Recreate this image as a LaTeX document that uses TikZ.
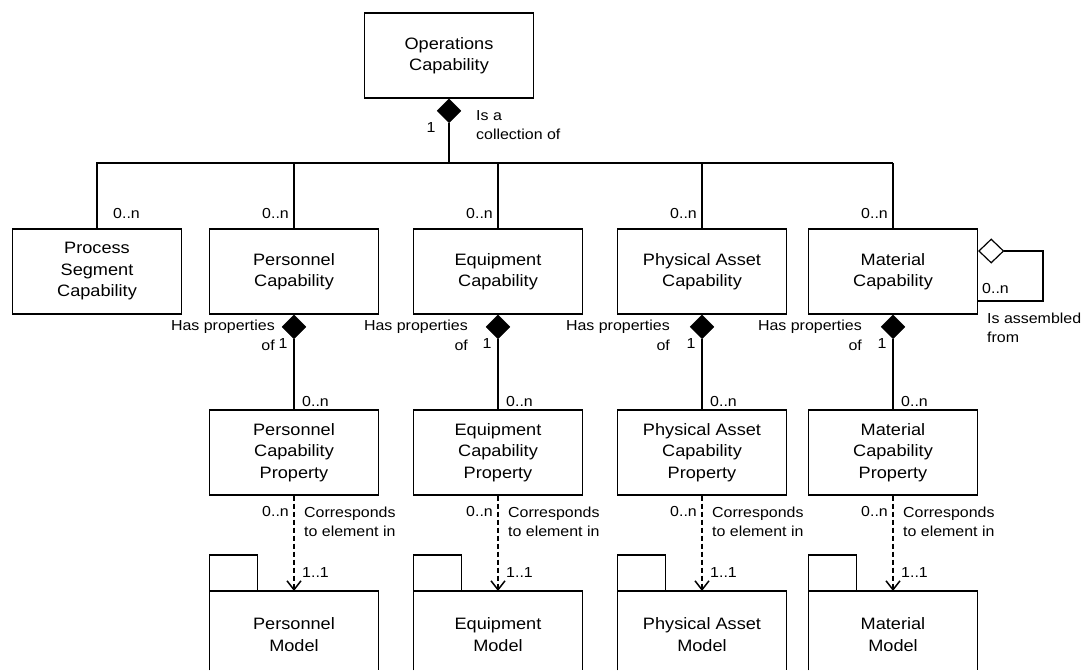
\documentclass[tikz,border=0pt]{standalone}
\usepackage{fontspec}
\setmainfont{Liberation Sans}[FakeStretch=1.1]
\usetikzlibrary{shapes.geometric,arrows.meta}
\begin{document}
\begin{tikzpicture}[x=1pt,y=-1pt,
 every node/.style={font=\fontsize{16.5}{21.5}\selectfont},
 box/.style={draw, line width=1.2pt, minimum width=169pt, minimum height=85pt, align=center, inner sep=0pt},
 mframe/.style={draw=none, minimum width=169pt, minimum height=79pt, inner sep=0pt},
 lbl/.style={font=\fontsize{14.5}{19.5}\selectfont, inner sep=0pt},
 cdia/.style={diamond, fill=black, draw=black, minimum width=24pt, minimum height=24pt, inner sep=0pt},
 odia/.style={diamond, fill=white, draw=black, line width=1.2pt, minimum width=25pt, minimum height=24pt, inner sep=0pt},
 conn/.style={line width=1.2pt},
 dep/.style={line width=1.2pt, dash pattern=on 5pt off 3pt, -{Straight Barb[length=9pt,width=14pt,line width=1.5pt]}},
]
\useasboundingbox[fill=white] (0,0) rectangle (1085,670);

% top
\node[box] (oc) at (449,55.5) {Operations\\Capability};
\node[cdia, anchor=north] (ocd) at (oc.south) {};
\coordinate (bus) at (449,163);
\node[lbl] (oc1) at (431,128) {1};
\node[lbl, align=left, anchor=west] (occ) at (476,125) {Is a\\collection of};

% process segment
\node[box] (psc) at (97,271.5) {Process\\Segment\\Capability};
\node[lbl, anchor=west] (psn) at (113,214) {0..n};

% four columns
\foreach \id/\cx/\nm/\hp in {p/294/Personnel/19, e/498/Equipment/30, a/702/Physical Asset/32, m/893/Material/31}{
  \node[box] (\id-c) at (\cx,271.5) {\nm\\Capability};
  \node[lbl, anchor=east] (\id-n1) at (\cx-5,214) {0..n};
  \draw[conn] (\id-c.north) -- (\id-c.north |- bus);
  \node[cdia, anchor=north] (\id-d) at (\id-c.south) {};
  \node[lbl, align=right, anchor=east] (\id-hp) at (\cx-\hp,335.5) {Has properties\\of};
  \node[lbl] (\id-one) at (\cx-11,344) {1};
  \node[box] (\id-p) at (\cx,452.5) {\nm\\Capability\\Property};
  \draw[conn] (\id-d.south) -- (\id-p.north);
  \node[lbl, anchor=west] (\id-n2) at (\cx+8,402) {0..n};
  \node[mframe, anchor=north] (\id-f) at (\cx,591) {};
  \node[align=center, inner sep=0pt] (\id-m) at ([yshift=-4pt]\id-f.center) {\nm\\Model};
  \draw[conn] (\id-f.south west) |- (\id-f.north east) -- (\id-f.south east);
  \draw[conn] (\id-f.north west) rectangle ++(48,-36);
  \draw[dep] (\id-p.south) -- (\id-f.north);
  \node[lbl, anchor=east] (\id-n3) at (\cx-5,512) {0..n};
  \node[lbl, align=left, anchor=west] (\id-cr) at (\cx+10,522) {Corresponds\\to element in};
  \node[lbl, anchor=west] (\id-11) at (\cx+8,573) {1..1};
}

% bus
\draw[conn] (ocd.south) -- (bus);
\draw[conn] (psc.north) |- (m-c.north |- bus);

% self loop on material capability
\node[odia, anchor=west] (mcd) at ([yshift=20.5pt]m-c.east) {};
\coordinate (loop) at (1043,301);
\draw[conn] (mcd.east) -| (loop) -- (loop -| m-c.east);
\node[lbl, anchor=west] (mln) at (982,289) {0..n};
\node[lbl, align=left, anchor=west] (mla) at (987,328) {Is assembled\\from};
\end{tikzpicture}
\end{document}
